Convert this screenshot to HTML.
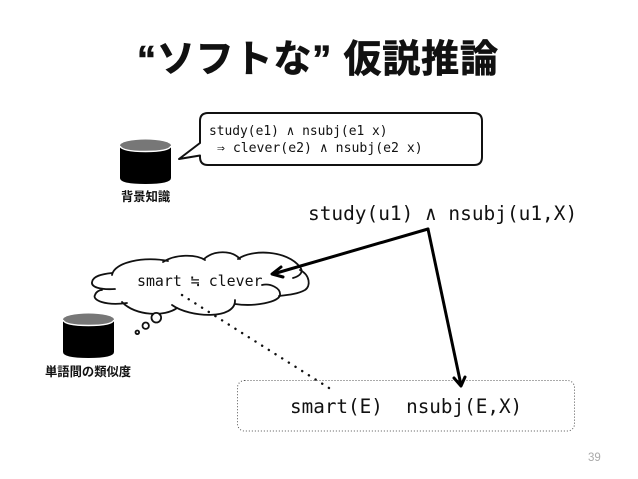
<!DOCTYPE html>
<html><head><meta charset="utf-8"><style>
html,body{margin:0;padding:0;background:#fff}
svg{display:block}
text{fill:#111;white-space:pre}
.m{font-family:"DejaVu Sans Mono","Liberation Mono",monospace}
.j{font-family:"Liberation Sans","Noto Sans CJK JP",sans-serif;font-weight:700}
</style></head><body>
<svg width="638" height="479" viewBox="0 0 638 479" xmlns="http://www.w3.org/2000/svg">
<rect width="638" height="479" fill="#fff"/>
<text class="j" x="137" y="72" font-size="38" textLength="361" lengthAdjust="spacing" stroke="#111" stroke-width="0.7">“ソフトな” 仮説推論</text>

<path d="M208 113H474Q482 113 482 121V157Q482 165 474 165H208Q200 165 200 157V155.500L179 159L200 143V121Q200 113 208 113Z" fill="#fff" stroke="#111" stroke-width="2" stroke-linejoin="round"/>
<text class="m" x="209" y="135" font-size="12.900">study(e1) ∧ nsubj(e1 x)</text>
<text class="m" x="217" y="152" font-size="13.150">⇒ clever(e2) ∧ nsubj(e2 x)</text>

<g>
<path d="M120 146V178Q120 184 145.500 184Q171 184 171 178V146Z" fill="#000"/>
<ellipse cx="145.500" cy="145.500" rx="25.500" ry="6" fill="#777"/>
<path d="M120 146Q122 151.500 145.500 151.500Q169 151.500 171 146" fill="none" stroke="#fff" stroke-width="1.500"/>
</g>
<text class="j" x="121" y="201" font-size="12.300">背景知識</text>

<g>
<path d="M63 320V352Q63 358 88.500 358Q114 358 114 352V320Z" fill="#000"/>
<ellipse cx="88.500" cy="319.500" rx="25.500" ry="6" fill="#777"/>
<path d="M63 320Q65 325.500 88.500 325.500Q112 325.500 114 320" fill="none" stroke="#fff" stroke-width="1.500"/>
</g>
<text class="j" x="45" y="376" font-size="12.300">単語間の類似度</text>

<g fill="#fff" stroke="#111" stroke-width="1.800" stroke-linecap="round" stroke-linejoin="round">
<path stroke="none" d="M112 274C118 262 150 258 163 262C175 256 195 255 205 259C215 251 232 252 240 259C255 251 290 252 300 268C309 274 311 286 305 290C298 295 288 296 279 296C276 302 255 306 235 304C232 316 195 320 177 308C165 316 135 316 122 302C105 305 93 300 95 295C96 291 98 290 102 289C90 287 90 276 112 274Z"/>
<g fill="none">
<path d="M115 289C100 290 91 287 92 282C93 276 102 274 112 273"/>
<path d="M112 275C114 262 145 256 168 261"/>
<path d="M163 262C175 254 196 254 205 260"/>
<path d="M204 259C214 250 232 250 240 259"/>
<path d="M238 259C252 249 287 250 300 267C304 272 300 276 293 278"/>
<path d="M300 270C310 275 311 286 305 290C298 294 288 295 279 296"/>
<path d="M262 285C270 283 281 288 280 295C279 302 255 307 235 304"/>
<path d="M235 300C236 320 190 318 172 305"/>
<path d="M177 308C165 317 135 316 122 302"/>
<path d="M127 303C105 306 92 300 95 295C96 292 99 290 102 290"/>
</g>
<circle cx="156.300" cy="317.700" r="4.800"/>
<circle cx="145.700" cy="325.700" r="3.200"/>
<circle cx="137.300" cy="332.300" r="1.800"/>
</g>

<text class="m" x="137" y="286" font-size="14.900">smart ≒ clever</text>

<rect x="237.500" y="380.500" width="337" height="50.500" rx="7" fill="none" stroke="#555" stroke-width="1" stroke-dasharray="1 2"/>
<line x1="182" y1="295" x2="329" y2="388" stroke="#111" stroke-width="2.400" stroke-linecap="round" stroke-dasharray="0.100 7.800"/>

<text class="m" x="308" y="220" font-size="19.450">study(u1) ∧ nsubj(u1,X)</text>
<text class="m" x="290" y="413" font-size="19.300">smart(E)  nsubj(E,X)</text>

<g fill="none" stroke="#000" stroke-width="3" stroke-linecap="round" stroke-linejoin="round">
<path d="M428 229L273 274"/>
<path d="M428 229L461 385"/>
<path d="M281 267L272 274L283 277"/>
<path d="M454 378L461 386L465 377"/>
</g>

<text x="588" y="461" font-family="Liberation Sans,sans-serif" font-size="11.500" style="fill:#aaa">39</text>
</svg>
</body></html>
